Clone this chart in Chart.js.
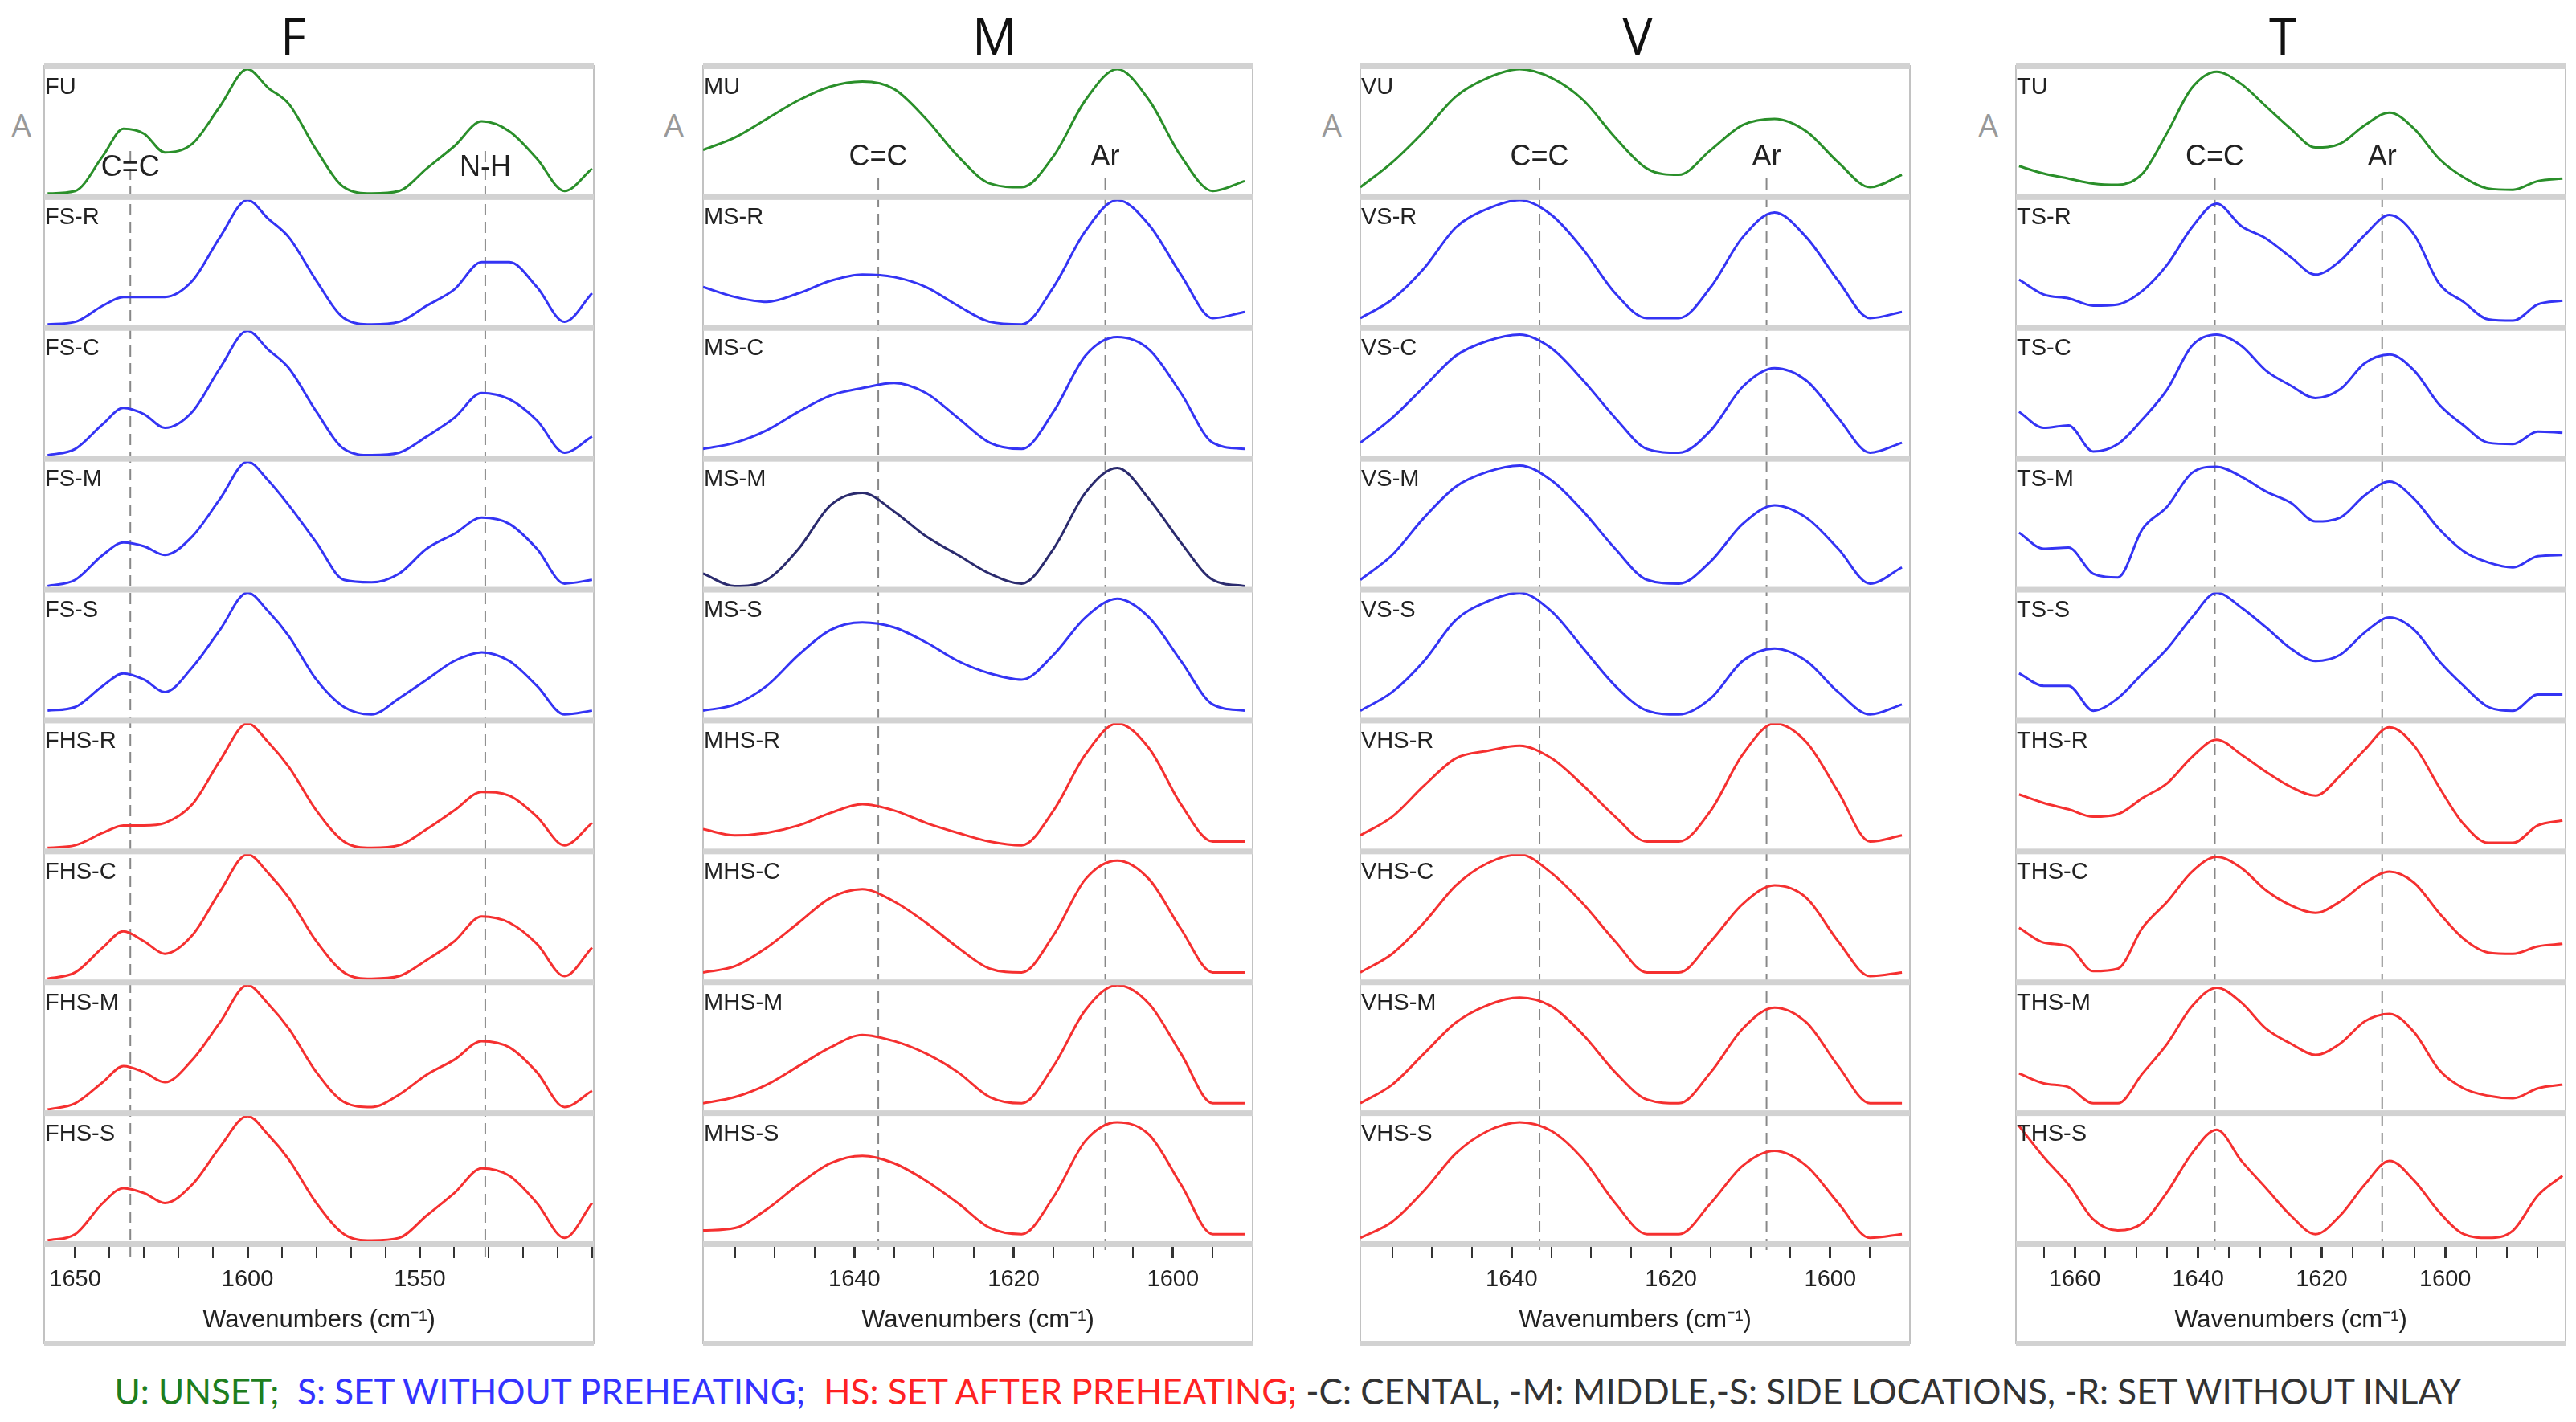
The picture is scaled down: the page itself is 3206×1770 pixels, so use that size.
<!DOCTYPE html>
<html lang="en">
<head>
<meta charset="UTF-8">
<title>FTIR spectra F / M / V / T</title>
<script src="https://cdn.jsdelivr.net/npm/chart.js"></script>
<style>
  body { margin: 0; width: 3206px; height: 1770px; background: #fff; position: relative; overflow: hidden; font-family: Lato, sans-serif; }
  .panel { position: absolute; top: 78px; width: 688px; height: 1600px; }
  .title { position: absolute; top: 2px; font-size: 62px; color: #111; transform: translateX(-50%); font-family: "Open Sans", sans-serif; }
  .aLbl { position: absolute; top: 128px; font-size: 40px; color: #999; font-family: "Open Sans", sans-serif; }
  #legend { position: absolute; top: 1705px; left: 0; width: 3206px; text-align: center; font-size: 44px; color: #333; white-space: nowrap; }
</style>
</head>
<body>
<div class="title" style="left:365px">F</div>
<div class="title" style="left:1238px">M</div>
<div class="title" style="left:2038px">V</div>
<div class="title" style="left:2841px">T</div>
<div class="aLbl" style="left:14px">A</div>
<div class="aLbl" style="left:826px">A</div>
<div class="aLbl" style="left:1645px">A</div>
<div class="aLbl" style="left:2462px">A</div>
<canvas class="panel" id="pF" width="688" height="1600" style="left:53px"></canvas>
<canvas class="panel" id="pM" width="688" height="1600" style="left:873px"></canvas>
<canvas class="panel" id="pV" width="688" height="1600" style="left:1691px"></canvas>
<canvas class="panel" id="pT" width="688" height="1600" style="left:2507px"></canvas>
<div id="legend"><span style="color:#1e7e1e">U: UNSET;</span>&nbsp; <span style="color:#3333ff">S: SET WITHOUT PREHEATING;</span>&nbsp; <span style="color:#ff2222">HS: SET AFTER PREHEATING;</span> -C: CENTAL, -M: MIDDLE,-S: SIDE LOCATIONS, -R: SET WITHOUT INLAY</div>

<script>
// wavenumber samples per panel
const xF = [1658,1650,1642,1636,1630,1624,1616,1608,1600,1594,1588,1580,1572,1564,1556,1548,1540,1532,1524,1516,1508,1500];
const xMV = [1659,1655,1651,1647,1643,1639,1635,1631,1627,1623,1619,1615,1611,1607,1603,1599,1595,1591];
const xT = [1669,1665,1661,1657,1653,1649,1645,1641,1637,1633,1629,1625,1621,1617,1613,1609,1605,1601,1597,1593,1589,1585,1581];

// normalised absorbance inside each strip (0 = bottom, 1 = top)
const FU    = [0,0.02,0.3,0.52,0.48,0.33,0.4,0.7,1.0,0.85,0.72,0.35,0.05,0,0.02,0.2,0.38,0.58,0.5,0.28,0.02,0.2];
const FS_R  = [0,0.02,0.15,0.22,0.22,0.22,0.35,0.7,1.0,0.85,0.7,0.35,0.05,0,0.02,0.15,0.28,0.5,0.5,0.3,0.02,0.25];
const FS_C  = [0,0.05,0.25,0.38,0.33,0.22,0.35,0.7,1.0,0.85,0.7,0.35,0.05,0,0.02,0.15,0.3,0.5,0.45,0.28,0.02,0.15];
const FS_M  = [0,0.05,0.25,0.35,0.32,0.25,0.4,0.7,1.0,0.85,0.65,0.35,0.05,0.03,0.1,0.3,0.42,0.55,0.5,0.3,0.02,0.05];
const FS_S  = [0.05,0.08,0.25,0.35,0.3,0.2,0.4,0.7,1.0,0.85,0.65,0.3,0.08,0.02,0.15,0.3,0.45,0.52,0.45,0.25,0.02,0.05];
const FHS_R = [0,0.02,0.12,0.18,0.18,0.2,0.35,0.7,1.0,0.85,0.65,0.3,0.05,0,0.02,0.15,0.3,0.45,0.42,0.25,0.02,0.2];
const FHS_C = [0,0.05,0.25,0.38,0.3,0.2,0.35,0.7,1.0,0.85,0.65,0.3,0.05,0,0.02,0.15,0.3,0.5,0.45,0.28,0.02,0.25];
const FHS_M = [0,0.05,0.22,0.35,0.3,0.22,0.4,0.7,1.0,0.85,0.65,0.3,0.06,0.02,0.12,0.28,0.4,0.55,0.5,0.3,0.02,0.15];
const FHS_S = [0,0.05,0.3,0.42,0.38,0.3,0.45,0.75,1.0,0.85,0.65,0.3,0.05,0,0.02,0.2,0.38,0.58,0.52,0.3,0.02,0.3];

const MU    = [0.35,0.45,0.6,0.75,0.86,0.9,0.84,0.6,0.3,0.08,0.05,0.3,0.75,1.0,0.75,0.3,0.02,0.1];
const MS_R  = [0.3,0.22,0.18,0.25,0.35,0.4,0.38,0.3,0.15,0.02,0,0.3,0.75,1.0,0.8,0.4,0.05,0.1];
const MS_C  = [0.05,0.1,0.2,0.35,0.48,0.54,0.58,0.5,0.3,0.1,0.05,0.35,0.8,0.95,0.85,0.5,0.1,0.05];
const MS_M  = [0.1,0,0.05,0.3,0.65,0.75,0.6,0.4,0.25,0.1,0.02,0.3,0.75,0.95,0.7,0.35,0.05,0];
const MS_S  = [0.05,0.1,0.25,0.5,0.7,0.76,0.72,0.6,0.45,0.35,0.3,0.5,0.8,0.95,0.8,0.45,0.1,0.05];
const MHS_R = [0.15,0.1,0.12,0.18,0.28,0.35,0.3,0.2,0.12,0.05,0.02,0.3,0.75,1.0,0.8,0.35,0.05,0.05];
const MHS_C = [0.05,0.1,0.25,0.45,0.65,0.72,0.62,0.45,0.25,0.08,0.05,0.35,0.8,0.95,0.8,0.4,0.05,0.05];
const MHS_M = [0.05,0.1,0.2,0.35,0.5,0.6,0.55,0.45,0.3,0.1,0.05,0.35,0.8,1.0,0.85,0.45,0.05,0.05];
const MHS_S = [0.08,0.1,0.25,0.45,0.62,0.68,0.62,0.48,0.3,0.1,0.05,0.35,0.8,0.95,0.85,0.45,0.05,0.05];

const VU    = [0.05,0.25,0.5,0.78,0.93,1.0,0.93,0.75,0.45,0.2,0.15,0.35,0.55,0.6,0.5,0.25,0.05,0.15];
const VS_R  = [0.05,0.2,0.45,0.78,0.93,1.0,0.88,0.6,0.25,0.05,0.05,0.3,0.7,0.9,0.7,0.35,0.05,0.1];
const VS_C  = [0.1,0.3,0.55,0.8,0.92,0.97,0.86,0.6,0.3,0.05,0.02,0.2,0.55,0.7,0.6,0.3,0.02,0.1];
const VS_M  = [0.05,0.25,0.55,0.8,0.92,0.97,0.85,0.6,0.3,0.05,0.02,0.2,0.5,0.65,0.55,0.3,0.02,0.15];
const VS_S  = [0.05,0.2,0.45,0.78,0.93,1.0,0.85,0.55,0.25,0.05,0.02,0.15,0.45,0.55,0.45,0.2,0.02,0.1];
const VHS_R = [0.1,0.25,0.5,0.72,0.78,0.82,0.72,0.5,0.25,0.05,0.05,0.3,0.75,1.0,0.85,0.45,0.05,0.1];
const VHS_C = [0.05,0.2,0.45,0.75,0.93,1.0,0.85,0.6,0.3,0.05,0.05,0.3,0.6,0.75,0.65,0.3,0.02,0.05];
const VHS_M = [0.05,0.2,0.45,0.7,0.84,0.9,0.83,0.6,0.3,0.08,0.05,0.3,0.65,0.82,0.7,0.35,0.05,0.05];
const VHS_S = [0.02,0.15,0.4,0.7,0.88,0.95,0.88,0.65,0.3,0.05,0.05,0.3,0.6,0.72,0.6,0.3,0.02,0.05];

const TU    = [0.22,0.16,0.12,0.08,0.07,0.16,0.49,0.85,0.98,0.88,0.7,0.52,0.37,0.4,0.55,0.65,0.52,0.28,0.13,0.04,0.03,0.1,0.12];
const TS_R  = [0.36,0.24,0.21,0.15,0.16,0.27,0.48,0.78,0.97,0.79,0.69,0.54,0.4,0.51,0.72,0.88,0.72,0.33,0.18,0.04,0.03,0.16,0.19];
const TS_C  = [0.35,0.22,0.24,0.03,0.09,0.29,0.53,0.88,0.97,0.88,0.68,0.56,0.46,0.53,0.74,0.81,0.68,0.41,0.24,0.1,0.09,0.19,0.18];
const TS_M  = [0.43,0.3,0.31,0.1,0.07,0.46,0.64,0.91,0.96,0.88,0.76,0.67,0.52,0.55,0.73,0.84,0.7,0.46,0.28,0.19,0.15,0.24,0.25];
const TS_S  = [0.35,0.25,0.25,0.05,0.15,0.35,0.55,0.8,1.0,0.88,0.72,0.55,0.45,0.5,0.68,0.8,0.7,0.45,0.25,0.08,0.05,0.18,0.18];
const THS_R = [0.43,0.36,0.31,0.25,0.27,0.4,0.52,0.73,0.87,0.75,0.61,0.49,0.42,0.58,0.79,0.97,0.82,0.49,0.19,0.04,0.04,0.18,0.22];
const THS_C = [0.41,0.29,0.26,0.06,0.08,0.41,0.62,0.86,0.98,0.89,0.71,0.59,0.53,0.62,0.77,0.86,0.77,0.53,0.32,0.21,0.2,0.26,0.28];
const THS_M = [0.29,0.21,0.18,0.05,0.05,0.29,0.53,0.83,0.98,0.86,0.65,0.53,0.44,0.53,0.71,0.77,0.62,0.32,0.17,0.11,0.09,0.17,0.2];
const THS_S = [0.92,0.67,0.45,0.17,0.08,0.14,0.39,0.7,0.89,0.64,0.42,0.2,0.05,0.2,0.45,0.64,0.48,0.23,0.05,0.02,0.08,0.36,0.52];

const GREEN = '#2a8f2a', BLUE = '#3434f4', RED = '#f53030', NAVY = '#2b2b6e';

function stackDatasets(xs, names, rows, colors) {
  return rows.map((row, i) => ({
    label: names[i],
    data: row.map((v, k) => ({ x: xs[k], y: (8 - i) + 0.025 + v * 0.95 })),
    borderColor: colors[i],
    borderWidth: 3,
    pointRadius: 0,
    cubicInterpolationMode: 'monotone'
  }));
}

// frame, strip separators, strip labels and dashed peak markers
const decor = {
  id: 'decor',
  beforeDatasetsDraw(chart, args, o) {
    const { ctx, chartArea: a, scales: { x, y } } = chart;
    ctx.save();
    ctx.strokeStyle = '#c2c2c2';
    ctx.lineWidth = 2;
    ctx.strokeRect(a.left, a.top, a.right - a.left, chart.height - 6 - a.top);
    ctx.strokeStyle = '#888';
    ctx.lineWidth = 2;
    ctx.setLineDash([14, 8]);
    o.peaks.forEach(p => {
      const px = x.getPixelForValue(p.x);
      ctx.beginPath();
      ctx.moveTo(px, y.getPixelForValue(p.from));
      ctx.lineTo(px, a.bottom + 16);
      ctx.stroke();
    });
    ctx.setLineDash([]);
    ctx.restore();
  },
  afterDatasetsDraw(chart, args, o) {
    const { ctx, chartArea: a, scales: { x, y } } = chart;
    ctx.save();
    ctx.fillStyle = '#d2d2d2';
    for (let k = 0; k <= 9; k++) {
      const py = y.getPixelForValue(k);
      ctx.fillRect(a.left, py - 3, a.right - a.left, 7);
    }
    ctx.fillRect(a.left, chart.height - 9, a.right - a.left, 7);
    ctx.font = '29px "Liberation Sans", sans-serif';
    ctx.fillStyle = '#222';
    ctx.textBaseline = 'top';
    chart.data.datasets.forEach((d, i) => {
      ctx.fillText(d.label, a.left + 1, y.getPixelForValue(9 - i) + 12);
    });
    ctx.font = '36px "Liberation Sans", sans-serif';
    ctx.textAlign = 'center';
    ctx.textBaseline = 'middle';
    o.peaks.forEach(p => ctx.fillText(p.text, x.getPixelForValue(p.x), y.getPixelForValue(p.labelY)));
    ctx.restore();
  }
};

function panel(id, xs, min, max, step, major, names, rows, colors, peaks) {
  new Chart(document.getElementById(id), {
    type: 'line',
    data: { datasets: stackDatasets(xs, names, rows, colors) },
    plugins: [decor],
    options: {
      responsive: false,
      animation: false,
      layout: { padding: { top: 4, bottom: 16, left: 2, right: 2 } },
      plugins: { legend: { display: false }, tooltip: { enabled: false }, decor: { peaks } },
      scales: {
        x: {
          type: 'linear', reverse: true, min, max,
          border: { display: false },
          grid: {
            drawOnChartArea: false, tickLength: 18, color: '#333',
            lineWidth: c => (c.tick && c.tick.value % major === 0) ? 3 : 2
          },
          afterBuildTicks: s => {
            const t = [];
            for (let v = Math.ceil(min / step) * step; v <= max; v += step) t.push({ value: v });
            s.ticks = t;
          },
          ticks: {
            autoSkip: false, maxRotation: 0, color: '#222', padding: 10,
            font: { family: '"Liberation Sans", sans-serif', size: 29 },
            callback: v => (v % major === 0 && v > min + 3 && v < max - 3) ? String(v) : ''
          },
          title: {
            display: true, text: 'Wavenumbers (cm\u207B\u00B9)', color: '#222',
            font: { family: '"Liberation Sans", sans-serif', size: 31 }, padding: { top: 4, bottom: 0 }
          }
        },
        y: { display: false, min: 0, max: 9 }
      }
    }
  });
}

const cF = [GREEN, BLUE, BLUE, BLUE, BLUE, RED, RED, RED, RED];
const cM = [GREEN, BLUE, BLUE, NAVY, BLUE, RED, RED, RED, RED];

panel('pF', xF, 1499.5, 1659, 10, 50,
  ['FU','FS-R','FS-C','FS-M','FS-S','FHS-R','FHS-C','FHS-M','FHS-S'],
  [FU, FS_R, FS_C, FS_M, FS_S, FHS_R, FHS_C, FHS_M, FHS_S], cF,
  [{ x: 1634, from: 8.35, labelY: 8.22, text: 'C=C' }, { x: 1531, from: 8.35, labelY: 8.22, text: 'N-H' }]);
panel('pM', xMV, 1590, 1659, 5, 20,
  ['MU','MS-R','MS-C','MS-M','MS-S','MHS-R','MHS-C','MHS-M','MHS-S'],
  [MU, MS_R, MS_C, MS_M, MS_S, MHS_R, MHS_C, MHS_M, MHS_S], cM,
  [{ x: 1637, from: 8.14, labelY: 8.3, text: 'C=C' }, { x: 1608.5, from: 8.14, labelY: 8.3, text: 'Ar' }]);
panel('pV', xMV, 1590, 1659, 5, 20,
  ['VU','VS-R','VS-C','VS-M','VS-S','VHS-R','VHS-C','VHS-M','VHS-S'],
  [VU, VS_R, VS_C, VS_M, VS_S, VHS_R, VHS_C, VHS_M, VHS_S], cF,
  [{ x: 1636.5, from: 8.14, labelY: 8.3, text: 'C=C' }, { x: 1608, from: 8.14, labelY: 8.3, text: 'Ar' }]);
panel('pT', xT, 1580.5, 1669.5, 5, 20,
  ['TU','TS-R','TS-C','TS-M','TS-S','THS-R','THS-C','THS-M','THS-S'],
  [TU, TS_R, TS_C, TS_M, TS_S, THS_R, THS_C, THS_M, THS_S], cF,
  [{ x: 1637.3, from: 8.14, labelY: 8.3, text: 'C=C' }, { x: 1610.2, from: 8.14, labelY: 8.3, text: 'Ar' }]);
</script>
</body>
</html>
